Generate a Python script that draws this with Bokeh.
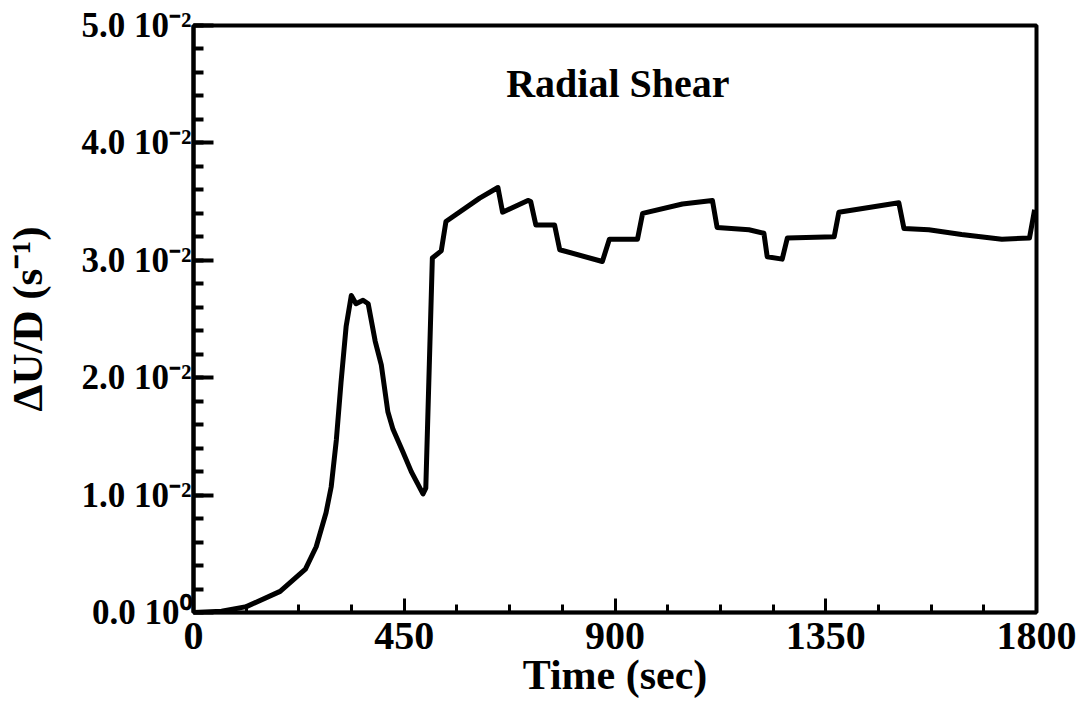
from bokeh.plotting import figure
from bokeh.models import Range1d, FixedTicker, ColumnDataSource, Label
from bokeh.embed import file_html
from bokeh.resources import INLINE

# ---- data ----
time_s = [0, 60, 113, 185, 239, 262, 283, 294, 305, 315, 326, 337, 347, 362, 373,
          388, 401, 415, 426, 447, 465, 490, 496, 510, 529, 539, 611, 650, 660,
          714, 720, 731, 771, 782, 873, 888, 948, 959, 1044, 1108, 1118, 1186,
          1218, 1225, 1257, 1268, 1368, 1378, 1506, 1517, 1570, 1640, 1726, 1785, 1796]
shear = [0.0000, 0.0001, 0.0005, 0.0018, 0.0037, 0.0056, 0.0085, 0.0107, 0.0147,
         0.0196, 0.0244, 0.0270, 0.0263, 0.0266, 0.0263, 0.0231, 0.0211, 0.0171,
         0.0156, 0.0137, 0.0120, 0.0101, 0.0106, 0.0302, 0.0308, 0.0333, 0.0353,
         0.0362, 0.0341, 0.0351, 0.0350, 0.0330, 0.0330, 0.0309, 0.0299, 0.0318,
         0.0318, 0.0340, 0.0348, 0.0351, 0.0328, 0.0326, 0.0323, 0.0303, 0.0301,
         0.0319, 0.0320, 0.0341, 0.0349, 0.0327, 0.0326, 0.0322, 0.0318, 0.0319, 0.0343]

x_ticks = [0, 450, 900, 1350, 1800]
y_ticks = [0.0, 0.01, 0.02, 0.03, 0.04, 0.05]
y_tick_labels = ["0.0 10\u2070", "1.0 10\u207b\u00b2", "2.0 10\u207b\u00b2",
                 "3.0 10\u207b\u00b2", "4.0 10\u207b\u00b2", "5.0 10\u207b\u00b2"]
title_text = "Radial Shear"
x_label = "Time (sec)"
y_label = "\u0394U/D (s\u207b\u00b9)"

FONT = "Liberation Serif"

W, H = 1088, 712
FL, FR, FT, FB = 190, 1036, 25, 612   # frame edges in page pixels
p = figure(width=W, height=H, x_range=Range1d(0, 1800), y_range=Range1d(0, 0.05),
           output_backend="svg", toolbar_location=None,
           min_border_left=FL, min_border_right=W - FR,
           min_border_top=FT, min_border_bottom=H - FB)
p.grid.visible = False
p.background_fill_color = "white"
p.border_fill_color = "white"
p.outline_line_color = "black"
p.outline_line_width = 4

src = ColumnDataSource(data=dict(t=time_s, v=shear))
p.line("t", "v", source=src, line_color="black", line_width=5, line_join="round")

# title inside the frame
p.add_layout(Label(x=906, y=0.0451, text=title_text, text_font=FONT,
                   text_font_style="bold", text_font_size="40px",
                   text_align="center", text_baseline="middle", text_color="black"))

# x axis
xa = p.xaxis[0]
xa.ticker = FixedTicker(ticks=x_ticks, minor_ticks=[112.5 * i for i in range(17)])
xa.axis_line_width = 3.5
xa.axis_line_color = "black"
xa.major_tick_in = 14
xa.major_tick_out = 0
xa.minor_tick_in = 8
xa.minor_tick_out = 0
xa.major_tick_line_width = 3
xa.minor_tick_line_width = 3
xa.major_label_text_font = FONT
xa.major_label_text_font_style = "bold"
xa.major_label_text_font_size = "40px"
xa.major_label_text_color = "black"
xa.major_label_standoff = 10
xa.axis_label = x_label
xa.axis_label_text_font = FONT
xa.axis_label_text_font_style = "bold"
xa.axis_label_text_font_size = "42px"
xa.axis_label_text_color = "black"
xa.axis_label_standoff = 0

# y axis
ya = p.yaxis[0]
ya.ticker = FixedTicker(ticks=y_ticks, minor_ticks=[0.002 * i for i in range(26)])
ya.major_label_overrides = {t: lab for t, lab in zip(y_ticks, y_tick_labels)}
ya.axis_line_width = 4
ya.axis_line_color = "black"
ya.major_tick_in = 20
ya.major_tick_out = 0
ya.minor_tick_in = 10
ya.minor_tick_out = 0
ya.major_tick_line_width = 4
ya.minor_tick_line_width = 4
ya.major_label_text_font = FONT
ya.major_label_text_font_style = "bold"
ya.major_label_text_font_size = "35px"
ya.major_label_text_color = "black"
ya.major_label_standoff = 2
ya.axis_label = y_label
ya.axis_label_text_font = FONT
ya.axis_label_text_font_style = "bold"
ya.axis_label_text_font_size = "43px"
ya.axis_label_text_color = "black"
ya.axis_label_standoff = 28

open("out.html", "w").write(file_html(p, INLINE))
